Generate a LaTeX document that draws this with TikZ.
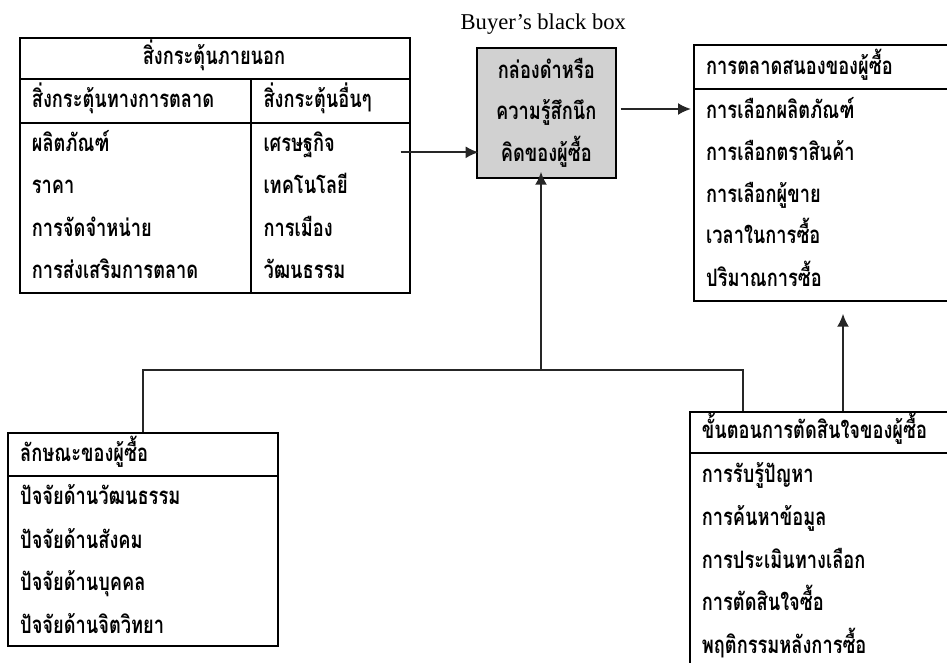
\documentclass[tikz,border=0pt]{standalone}
\usepackage{fontspec}
\setmainfont{Liberation Serif}
\newfontfamily\thaifont[Script=Thai,FakeStretch=0.76,UprightFont=* Bold]{Loma}
\usetikzlibrary{%
  arrows.meta,%
  calc%
}
\tikzset{>={Latex[length=13pt,width=12pt]}}
\tikzset{
  tbl/.style={draw,line width=2pt,anchor=north west,inner sep=0pt},
  txt/.style={anchor=base west,inner sep=0pt,font=\thaifont\fontsize{24}{26}\selectfont},
  conn/.style={line width=2pt,black!85}
}

\begin{document}
\begin{tikzpicture}[x=1pt,y=-1pt]
    \useasboundingbox (0,0) rectangle (947,662);
    % stimuli table
    \node[tbl,minimum width=390.4pt,minimum height=255.3pt] (ext) at (19,36.7) {};
    \draw[line width=2pt] (19,79.4) -- (409.4,79.4);
    \draw[line width=2pt] (19,123.3) -- (409.4,123.3);
    \draw[line width=2pt] (250.6,79.4) -- (250.6,292);
    \node[txt,anchor=base] (exttitle) at (214,64.5) {สิ่งกระตุ้นภายนอก};
    \node[txt] (mkthead) at (31.7,107.5) {สิ่งกระตุ้นทางการตลาด};
    \node[txt] (othhead) at (263.3,107.5) {สิ่งกระตุ้นอื่นๆ};
    \node[txt] (mkt1) at (31.7,151) {ผลิตภัณฑ์};
    \node[txt] (mkt2) at (31.7,193.5) {ราคา};
    \node[txt] (mkt3) at (31.7,236.5) {การจัดจำหน่าย};
    \node[txt] (mkt4) at (31.7,278.5) {การส่งเสริมการตลาด};
    \node[txt] (oth1) at (263.3,151) {เศรษฐกิจ};
    \node[txt] (oth2) at (263.3,193.5) {เทคโนโลยี};
    \node[txt] (oth3) at (263.3,236.5) {การเมือง};
    \node[txt] (oth4) at (263.3,278.5) {วัฒนธรรม};
    % black box
    \node[font=\fontsize{22.6}{26}\selectfont,anchor=base] (bbcap) at (543.3,29.5) {Buyer’s black box};
    \node[draw,line width=2pt,fill=black!18,minimum width=139.3pt,minimum height=130pt,
      inner sep=0pt,align=center,font=\thaifont\fontsize{24}{41.3}\selectfont] (bb) at (546.3,112.7)
      {กล่องดำหรือ\\ความรู้สึกนึก\\คิดของผู้ซื้อ};
    % responses table
    \node[tbl,minimum width=257pt,minimum height=256.3pt] (resp) at (693,43.7) {};
    \draw[line width=2pt] (693,89.3) -- (950,89.3);
    \node[txt] (resphead) at (706,74) {การตลาดสนองของผู้ซื้อ};
    \node[txt] (resp1) at (706,118) {การเลือกผลิตภัณฑ์};
    \node[txt] (resp2) at (706,160) {การเลือกตราสินค้า};
    \node[txt] (resp3) at (706,202.5) {การเลือกผู้ขาย};
    \node[txt] (resp4) at (706,243.5) {เวลาในการซื้อ};
    \node[txt] (resp5) at (706,286.5) {ปริมาณการซื้อ};
    % buyer characteristics
    \node[tbl,minimum width=270pt,minimum height=213.3pt] (buyer) at (7.3,431.7) {};
    \draw[line width=2pt] (7.3,475.7) -- (277.3,475.7);
    \node[txt] (buyerhead) at (20,461.5) {ลักษณะของผู้ซื้อ};
    \node[txt] (buyer1) at (20,504.8) {ปัจจัยด้านวัฒนธรรม};
    \node[txt] (buyer2) at (20,548.2) {ปัจจัยด้านสังคม};
    \node[txt] (buyer3) at (20,590.5) {ปัจจัยด้านบุคคล};
    \node[txt] (buyer4) at (20,633.2) {ปัจจัยด้านจิตวิทยา};
    % decision process
    \node[tbl,minimum width=260.7pt,minimum height=270pt] (dec) at (689.3,411) {};
    \draw[line width=2pt] (689.3,453.3) -- (950,453.3);
    \node[txt] (dechead) at (701.7,438.2) {ขั้นตอนการตัดสินใจของผู้ซื้อ};
    \node[txt] (dec1) at (701.7,482.5) {การรับรู้ปัญหา};
    \node[txt] (dec2) at (701.7,525.5) {การค้นหาข้อมูล};
    \node[txt] (dec3) at (701.7,568.2) {การประเมินทางเลือก};
    \node[txt] (dec4) at (701.7,610.5) {การตัดสินใจซื้อ};
    \node[txt] (dec5) at (701.7,653.2) {พฤติกรรมหลังการซื้อ};
    % connectors
    \coordinate (extout) at (400.7,152.3);
    \coordinate (bbout) at (620.7,109);
    \coordinate (join) at (541,370);
    \draw[conn,->,shorten >=-3pt] (extout) -- (extout -| bb.west);
    \draw[conn,->,shorten >=2pt] (bbout) -- (bbout -| resp.west);
    \draw[conn] (buyer.north) |- (join) -| (742.9,0 |- dec.north);
    \draw[conn,->,shorten >=-7pt] (join) -- (join |- bb.south);
    \draw[conn,->,shorten >=11.7pt] (843,0 |- dec.north) -- (843,0 |- resp.south);
\end{tikzpicture}
\end{document}
